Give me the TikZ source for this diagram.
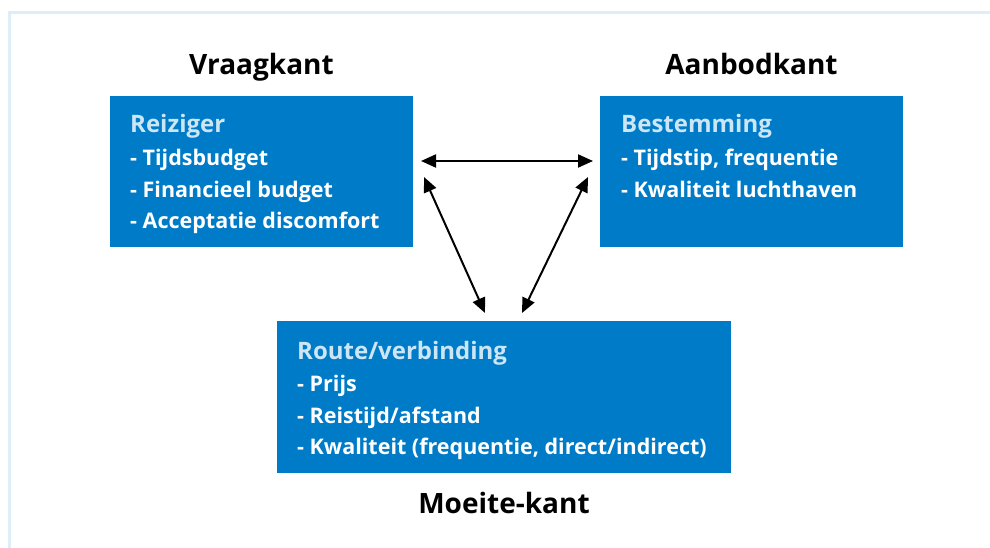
\documentclass[tikz,border=0pt]{standalone}
\usepackage{fontspec}
\setmainfont{Open Sans}
\usetikzlibrary{arrows.meta}
\definecolor{boxblue}{HTML}{007BC7}
\definecolor{headblue}{HTML}{CCE6F6}
\definecolor{framecol}{HTML}{DDEEF8}
\tikzset{
  box/.style={fill=boxblue, draw=none, anchor=north west, inner sep=0pt},
  side/.style={font=\fontsize{28}{34}\selectfont\bfseries, text=black, anchor=base, inner sep=0pt},
  head/.style={font=\fontsize{24}{28}\selectfont\bfseries, text=headblue, anchor=base west, inner sep=0pt},
  item/.style={font=\fontsize{21.5}{26}\selectfont\bfseries, text=white, anchor=base west, inner sep=0pt},
  conn/.style={line width=2pt, {Triangle[length=15pt,width=13pt]}-{Triangle[length=15pt,width=13pt]}},
}
\begin{document}
\begin{tikzpicture}[x=1pt,y=-1pt]
\useasboundingbox (0,0) rectangle (990,548);
\fill[white] (0,0) rectangle (990,548);
\draw[framecol, line width=3pt] (9.5,548) -- (9.5,12.5) -- (990,12.5);

% boxes
\node[box, minimum width=303, minimum height=151] (reiziger) at (110,96) {};
\node[box, minimum width=303, minimum height=151] (bestemming) at (600,96) {};
\node[box, minimum width=454, minimum height=152] (route) at (277,321) {};

% side labels
\node[side] (vraag) at (261.5,75) {Vraagkant};
\node[side] (aanbod) at (751.5,75) {Aanbodkant};
\node[side] (moeite) at (504,513) {Moeite-kant};

% Reiziger text
\node[head] (r0) at (130,133) {Reiziger};
\node[item] (r1) at (130,166) {- Tijdsbudget};
\node[item] (r2) at (130,197) {- Financieel budget};
\node[item] (r3) at (130,228) {- Acceptatie discomfort};

% Bestemming text
\node[head] (b0) at (621,133) {Bestemming};
\node[item] (b1) at (621,166) {- Tijdstip, frequentie};
\node[item] (b2) at (621,197) {- Kwaliteit luchthaven};

% Route text
\node[head] (t0) at (297,359) {Route/verbinding};
\node[item] (t1) at (297,391) {- Prijs};
\node[item] (t2) at (297,423) {- Reistijd/afstand};
\node[item] (t3) at (297,454) {- Kwaliteit (frequentie, direct/indirect)};

% connector ends
\coordinate (h1) at (421,161);
\coordinate (h2) at (593,161);
\coordinate (l1) at (424,177);
\coordinate (l2) at (485,313);
\coordinate (q1) at (588,177);
\coordinate (q2) at (522,313);

\draw[conn] (h1) -- (h2);
\draw[conn] (l1) -- (l2);
\draw[conn] (q1) -- (q2);
\end{tikzpicture}
\end{document}
